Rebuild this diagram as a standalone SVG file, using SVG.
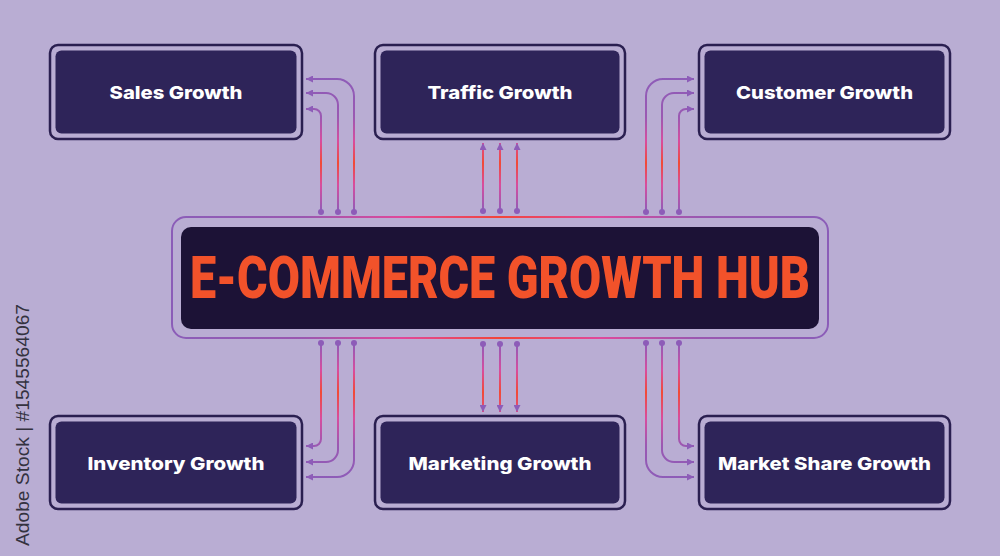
<svg xmlns="http://www.w3.org/2000/svg" width="1000" height="556" viewBox="0 0 1000 556">
  <style>
    .frame { fill: none; stroke: #2a1f50; stroke-width: 2.5; }
    .inner { fill: #2e2459; }
    .lbl { font-family: "Inter", "Liberation Sans", sans-serif; font-weight: 800; font-size: 18px; fill: #ffffff; text-anchor: middle; }
    .title { font-family: "Roboto", "Liberation Sans", sans-serif; font-weight: 900; font-size: 60px; fill: #f2522a; text-anchor: middle; }
    .ct { fill: none; stroke-width: 2; }
    .top { stroke: url(#gTop); }
    .bot { stroke: url(#gBot); }
    .wm { font-family: "Liberation Sans", "DejaVu Sans", sans-serif; font-size: 18px; fill: #34323f; }
  </style>
  <defs>
    <linearGradient id="gTop" gradientUnits="userSpaceOnUse" x1="0" y1="76" x2="0" y2="212">
      <stop offset="0" stop-color="#8d5cb8"/>
      <stop offset="0.3" stop-color="#9a58b2"/>
      <stop offset="0.48" stop-color="#d84c9e"/>
      <stop offset="0.64" stop-color="#f24a35"/>
      <stop offset="0.8" stop-color="#d84c9e"/>
      <stop offset="1" stop-color="#8d5cb8"/>
    </linearGradient>
    <linearGradient id="gBot" gradientUnits="userSpaceOnUse" x1="0" y1="343" x2="0" y2="480">
      <stop offset="0" stop-color="#8d5cb8"/>
      <stop offset="0.2" stop-color="#d84c9e"/>
      <stop offset="0.36" stop-color="#f24a35"/>
      <stop offset="0.55" stop-color="#d84c9e"/>
      <stop offset="0.75" stop-color="#9a58b2"/>
      <stop offset="1" stop-color="#8d5cb8"/>
    </linearGradient>
    <linearGradient id="gFrame" gradientUnits="userSpaceOnUse" x1="172" y1="0" x2="828" y2="0">
      <stop offset="0" stop-color="#8b5db8"/>
      <stop offset="0.2" stop-color="#9a58b0"/>
      <stop offset="0.35" stop-color="#e0489a"/>
      <stop offset="0.5" stop-color="#f2453a"/>
      <stop offset="0.65" stop-color="#e0489a"/>
      <stop offset="0.8" stop-color="#9a58b0"/>
      <stop offset="1" stop-color="#8b5db8"/>
    </linearGradient>
    <marker id="arr" viewBox="0 0 10 10" refX="10" refY="5" markerWidth="7" markerHeight="7" orient="auto" markerUnits="userSpaceOnUse">
      <path d="M0,0 L10,5 L0,10 z" fill="#8d5cb8"/>
    </marker>
    <marker id="dot" viewBox="0 0 10 10" refX="5" refY="5" markerWidth="6" markerHeight="6" markerUnits="userSpaceOnUse">
      <circle cx="5" cy="5" r="5" fill="#8d5cb8"/>
    </marker>
  </defs>

  <rect x="0" y="0" width="1000" height="556" fill="#b9add3"/>

  <text class="wm" transform="translate(29,546) rotate(-90)" textLength="242" lengthAdjust="spacingAndGlyphs">Adobe Stock | #1545564067</text>

  <g id="connectors">
    <!-- top-left: Sales Growth -->
    <path class="ct top" d="M354,212 V96 A17,17 0 0 0 337,79 H306" marker-start="url(#dot)" marker-end="url(#arr)"/>
    <path class="ct top" d="M338,212 V105 A12,12 0 0 0 326,93 H306" marker-start="url(#dot)" marker-end="url(#arr)"/>
    <path class="ct top" d="M321,212 V116 A7,7 0 0 0 314,109 H306" marker-start="url(#dot)" marker-end="url(#arr)"/>
    <!-- top-middle: Traffic Growth -->
    <path class="ct top" d="M483,211 V143" marker-start="url(#dot)" marker-end="url(#arr)"/>
    <path class="ct top" d="M500,211 V143" marker-start="url(#dot)" marker-end="url(#arr)"/>
    <path class="ct top" d="M517,211 V143" marker-start="url(#dot)" marker-end="url(#arr)"/>
    <!-- top-right: Customer Growth -->
    <path class="ct top" d="M646,212 V96 A17,17 0 0 1 663,79 H694" marker-start="url(#dot)" marker-end="url(#arr)"/>
    <path class="ct top" d="M662,212 V105 A12,12 0 0 1 674,93 H694" marker-start="url(#dot)" marker-end="url(#arr)"/>
    <path class="ct top" d="M679,212 V116 A7,7 0 0 1 686,109 H694" marker-start="url(#dot)" marker-end="url(#arr)"/>
    <!-- bottom-left: Inventory Growth -->
    <path class="ct bot" d="M321,343 V439 A7,7 0 0 1 314,446 H306" marker-start="url(#dot)" marker-end="url(#arr)"/>
    <path class="ct bot" d="M338,343 V450 A12,12 0 0 1 326,462 H306" marker-start="url(#dot)" marker-end="url(#arr)"/>
    <path class="ct bot" d="M354,343 V460 A17,17 0 0 1 337,477 H306" marker-start="url(#dot)" marker-end="url(#arr)"/>
    <!-- bottom-middle: Marketing Growth -->
    <path class="ct bot" d="M483,344 V412" marker-start="url(#dot)" marker-end="url(#arr)"/>
    <path class="ct bot" d="M500,344 V412" marker-start="url(#dot)" marker-end="url(#arr)"/>
    <path class="ct bot" d="M517,344 V412" marker-start="url(#dot)" marker-end="url(#arr)"/>
    <!-- bottom-right: Market Share Growth -->
    <path class="ct bot" d="M679,343 V439 A7,7 0 0 0 686,446 H694" marker-start="url(#dot)" marker-end="url(#arr)"/>
    <path class="ct bot" d="M662,343 V450 A12,12 0 0 0 674,462 H694" marker-start="url(#dot)" marker-end="url(#arr)"/>
    <path class="ct bot" d="M646,343 V460 A17,17 0 0 0 663,477 H694" marker-start="url(#dot)" marker-end="url(#arr)"/>
  </g>

  <g id="hub">
    <rect x="172" y="217" width="656" height="121" rx="14" fill="none" stroke="url(#gFrame)" stroke-width="2"/>
    <rect x="181" y="227" width="638" height="102" rx="10" fill="#1c1236"/>
    <text class="title" x="500" y="298" textLength="620" lengthAdjust="spacingAndGlyphs">E-COMMERCE GROWTH HUB</text>
  </g>

  <g id="sales-growth">
    <rect class="frame" x="50" y="45" width="252" height="94" rx="8"/>
    <rect class="inner" x="55.5" y="50.5" width="241" height="83" rx="6"/>
    <text class="lbl" x="176" y="99" textLength="133" lengthAdjust="spacingAndGlyphs">Sales Growth</text>
  </g>
  <g id="traffic-growth">
    <rect class="frame" x="375" y="45" width="250" height="94" rx="8"/>
    <rect class="inner" x="380.5" y="50.5" width="239" height="83" rx="6"/>
    <text class="lbl" x="500" y="99" textLength="145" lengthAdjust="spacingAndGlyphs">Traffic Growth</text>
  </g>
  <g id="customer-growth">
    <rect class="frame" x="699" y="45" width="251" height="94" rx="8"/>
    <rect class="inner" x="704.5" y="50.5" width="240" height="83" rx="6"/>
    <text class="lbl" x="824.5" y="99" textLength="177" lengthAdjust="spacingAndGlyphs">Customer Growth</text>
  </g>
  <g id="inventory-growth">
    <rect class="frame" x="50" y="416" width="252" height="93" rx="8"/>
    <rect class="inner" x="55.5" y="421.5" width="241" height="82" rx="6"/>
    <text class="lbl" x="176" y="470" textLength="177" lengthAdjust="spacingAndGlyphs">Inventory Growth</text>
  </g>
  <g id="marketing-growth">
    <rect class="frame" x="375" y="416" width="250" height="93" rx="8"/>
    <rect class="inner" x="380.5" y="421.5" width="239" height="82" rx="6"/>
    <text class="lbl" x="500" y="470" textLength="183" lengthAdjust="spacingAndGlyphs">Marketing Growth</text>
  </g>
  <g id="market-share-growth">
    <rect class="frame" x="699" y="416" width="251" height="93" rx="8"/>
    <rect class="inner" x="704.5" y="421.5" width="240" height="82" rx="6"/>
    <text class="lbl" x="824.5" y="470" textLength="213" lengthAdjust="spacingAndGlyphs">Market Share Growth</text>
  </g>
</svg>
